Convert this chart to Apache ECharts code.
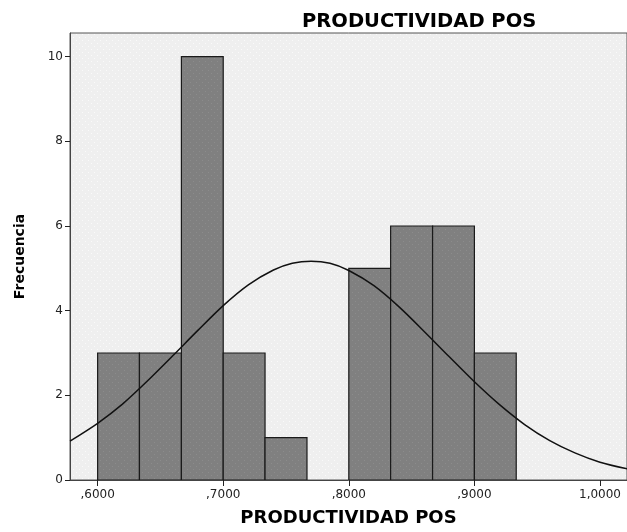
<!DOCTYPE html>
<html>
<head>
<meta charset="utf-8">
<script src="https://cdn.jsdelivr.net/npm/echarts@6/dist/echarts.min.js"></script>
<style>
html,body{margin:0;padding:0;background:#fff;}
#chart{width:627px;height:532px;}
</style>
</head>
<body>
<div id="chart"></div>
<script>
// ---- data ----
const binStarts = [0.6000, 0.6333, 0.6667, 0.7000, 0.7333, 0.7667, 0.8000, 0.8333, 0.8667, 0.9000];
const binEnds   = [0.6333, 0.6667, 0.7000, 0.7333, 0.7667, 0.8000, 0.8333, 0.8667, 0.9000, 0.9333];
const counts    = [3, 3, 10, 3, 1, 0, 5, 6, 6, 3];
const curveX = [0.578, 0.60, 0.62, 0.64, 0.66, 0.68, 0.70, 0.72, 0.74, 0.755, 0.77, 0.785, 0.80, 0.82, 0.84, 0.86, 0.88, 0.90, 0.92, 0.94, 0.96, 0.98, 1.00, 1.022];
const curveY = [0.92, 1.34, 1.80, 2.35, 2.94, 3.54, 4.12, 4.61, 4.96, 5.12, 5.17, 5.12, 4.95, 4.59, 4.09, 3.51, 2.91, 2.32, 1.78, 1.31, 0.93, 0.64, 0.42, 0.26];
const xTicks = [0.6, 0.7, 0.8, 0.9, 1.0];
const yTicks = [0, 2, 4, 6, 8, 10];
const titleText = 'PRODUCTIVIDAD POS';
const xName = 'PRODUCTIVIDAD POS';
const yName = 'Frecuencia';

function makePattern(bg, dot, size) {
  const c = document.createElement('canvas');
  c.width = size; c.height = size;
  const g = c.getContext('2d');
  g.fillStyle = bg; g.fillRect(0, 0, size, size);
  g.fillStyle = dot;
  g.fillRect(1, 1, 1, 1);
  g.fillRect(Math.floor(size/2)+1, Math.floor(size/2)+1, 1, 1);
  return c;
}
const bgPattern = makePattern('#efefef', '#fafafa', 6);
const barPattern = makePattern('#808080', '#8c8c8c', 6);

const histData = binStarts.map((s, i) => [s, binEnds[i], counts[i]]);
const curveData = curveX.map((x, i) => [x, curveY[i]]);

const fmtX = v => {
  let s = Number(v).toFixed(4).replace('.', ',');
  if (s.startsWith('0,')) s = s.slice(1);
  return s;
};

const FONT = 'DejaVu Sans, Verdana, sans-serif';

const chart = echarts.init(document.getElementById('chart'), null, {renderer: 'canvas'});
chart.setOption({
  animation: false,
  backgroundColor: '#ffffff',
  title: {
    text: titleText,
    left: 297, top: 7,
    textStyle: {fontFamily: FONT, fontSize: 19.5, fontWeight: 'bold', color: '#000'}
  },
  grid: {
    left: 70, right: -3, top: 33, bottom: 50,
    show: true,
    backgroundColor: {image: bgPattern, repeat: 'repeat'},
    borderColor: '#555', borderWidth: 1
  },
  xAxis: {
    type: 'value',
    min: 0.578, max: 1.0215,
    name: xName,
    nameLocation: 'middle',
    nameGap: 29,
    nameTextStyle: {fontFamily: FONT, fontSize: 18, fontWeight: 'bold', color: '#000'},
    splitLine: {show: false},
    axisLine: {show: true, lineStyle: {color: '#444', width: 1}},
    axisTick: {show: true, customValues: xTicks, length: 6, lineStyle: {color: '#222'}},
    axisLabel: {show: true, customValues: xTicks, formatter: fmtX, margin: 9,
      fontFamily: FONT, fontSize: 12, color: '#222'}
  },
  yAxis: {
    type: 'value',
    min: 0, max: 10.56,
    name: yName,
    nameLocation: 'middle',
    nameGap: 43,
    nameRotate: 90,
    nameTextStyle: {fontFamily: FONT, fontSize: 14, fontWeight: 'bold', color: '#000'},
    splitLine: {show: false},
    axisLine: {show: true, lineStyle: {color: '#444', width: 1}},
    axisTick: {show: true, customValues: yTicks, length: 5, lineStyle: {color: '#222'}},
    axisLabel: {show: true, customValues: yTicks, margin: 7,
      fontFamily: FONT, fontSize: 12, color: '#222'}
  },
  series: [
    {
      type: 'custom',
      data: histData,
      encode: {x: [0, 1], y: 2},
      clip: true,
      renderItem: function (params, api) {
        const v = api.value(2);
        if (!v) return null;
        const p0 = api.coord([api.value(0), v]);
        const p1 = api.coord([api.value(1), 0]);
        return {
          type: 'rect',
          shape: {x: p0[0], y: p0[1], width: p1[0] - p0[0], height: p1[1] - p0[1]},
          style: {fill: {image: barPattern, repeat: 'repeat'}, stroke: '#1a1a1a', lineWidth: 1.2}
        };
      },
      z: 2
    },
    {
      type: 'line',
      data: curveData,
      smooth: 0.3,
      symbol: 'none',
      clip: true,
      lineStyle: {color: '#111', width: 1.5},
      z: 3
    }
  ]
});
</script>
</body>
</html>
